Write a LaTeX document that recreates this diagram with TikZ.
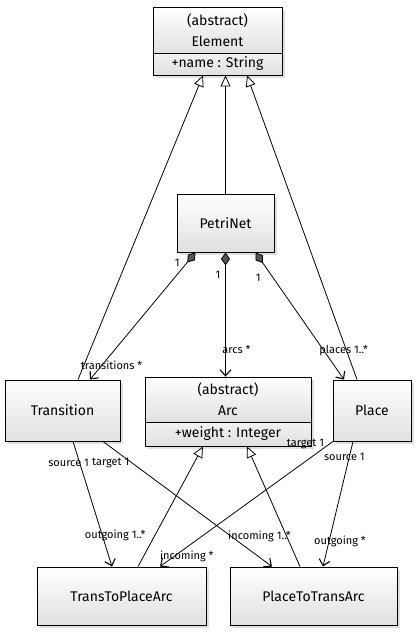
\documentclass[tikz,border=0pt]{standalone}
\usepackage{fontspec}
\setmainfont{Fira Sans}
\usetikzlibrary{arrows.meta,calc,shadows}
\definecolor{kutuAlt}{HTML}{E0E0E0}
\definecolor{elmasGri}{HTML}{555555}

\begin{document}
\begin{tikzpicture}[x=1pt,y=-1pt,
  cls/.style={draw,line width=0.9pt,top color=white,bottom color=kutuAlt,
    drop shadow={opacity=0.25,shadow xshift=2.5pt,shadow yshift=-2.5pt},
    font=\fontsize{14}{21}\selectfont,align=center,inner sep=0pt},
  attr/.style={cls,top color=kutuAlt!45,font=\fontsize{14}{16}\selectfont},
  lbl/.style={font=\fontsize{11}{12}\selectfont,inner sep=1pt},
  gen/.style={line width=0.8pt,-{Triangle[open,fill=white,length=11pt,width=10pt]}},
  comp/.style={line width=0.8pt,{Diamond[fill=elmasGri,length=13pt,width=9pt]}-{Straight Barb[length=6pt,width=11pt,line width=1.1pt]}},
  assoc/.style={line width=0.8pt,-{Straight Barb[length=6pt,width=11pt,line width=1.1pt]}}]
\useasboundingbox (0,0) rectangle (416,632);

% classes
\node[cls,minimum width=129pt,minimum height=46pt] (elemName) at (217.5,30) {(abstract)\\Element};
\node[attr,minimum width=129pt,minimum height=22pt] (elemAttr) at (217.5,64) {+name : String};
\node[cls,minimum width=97pt,minimum height=58pt] (petri) at (225.5,223) {PetriNet};
\node[cls,minimum width=115pt,minimum height=61pt] (trans) at (62.5,410.5) {Transition};
\node[cls,minimum width=166pt,minimum height=45pt] (arcName) at (228,399.5) {(abstract)\\Arc};
\node[attr,minimum width=166pt,minimum height=24pt] (arcAttr) at (228,434) {+weight : Integer};
\node[cls,minimum width=78pt,minimum height=61pt] (place) at (372,410.5) {Place};
\node[cls,minimum width=169pt,minimum height=58pt] (t2p) at (121.5,596) {TransToPlaceArc};
\node[cls,minimum width=167pt,minimum height=58pt] (p2t) at (313.5,596) {PlaceToTransArc};

% inheritance
\draw[gen] ([xshift=15.5pt]trans.north) -- ([xshift=-14.5pt]elemAttr.south);
\draw[gen] (petri.north) -- (petri.north |- elemAttr.south);
\draw[gen] ([xshift=-15pt]place.north) -- ([xshift=29.5pt]elemAttr.south);
\draw[gen] ([xshift=16.5pt]t2p.north) -- ([xshift=-25pt]arcAttr.south);
\draw[gen] ([xshift=-13.5pt]p2t.north) -- ([xshift=19pt]arcAttr.south);

% composition
\draw[comp] ([xshift=-30pt]petri.south) -- node[lbl,pos=0.06,xshift=-12pt,yshift=-3pt]{1}
  node[lbl,pos=0.89,xshift=10pt]{transitions *} ([xshift=27.5pt]trans.north);
\draw[comp] (petri.south) -- node[lbl,pos=0.18,xshift=-7.5pt]{1}
  node[lbl,pos=0.78,xshift=11pt]{arcs *} (petri.south |- arcName.north);
\draw[comp] ([xshift=30pt]petri.south) -- node[lbl,pos=0.2,xshift=-15pt]{1}
  node[lbl,pos=0.77,xshift=20pt]{places 1..*} ([xshift=-28pt]place.north);

% associations
\draw[assoc] ([xshift=10.5pt]trans.south) -- node[lbl,pos=0.17,xshift=-11pt]{source 1}
  node[lbl,pos=0.75,xshift=13pt]{outgoing 1..*} ([xshift=-9.5pt]t2p.north);
\draw[assoc] ([xshift=40.5pt]trans.south) -- node[lbl,pos=0.17,xshift=-21pt]{target 1}
  node[lbl,pos=0.76,xshift=28pt]{incoming 1..*} ([xshift=-41.5pt]p2t.north);
\draw[assoc] ([xshift=-39pt]place.south) -- node[lbl,pos=0.02,xshift=-24pt]{target 1}
  node[lbl,pos=0.92,xshift=13pt]{incoming *} ([xshift=38.5pt]t2p.north);
\draw[assoc] ([xshift=-19pt]place.south) -- node[lbl,pos=0.12,xshift=-5pt]{source 1}
  node[lbl,pos=0.8,xshift=11pt]{outgoing *} ([xshift=9.5pt]p2t.north);
\end{tikzpicture}
\end{document}
